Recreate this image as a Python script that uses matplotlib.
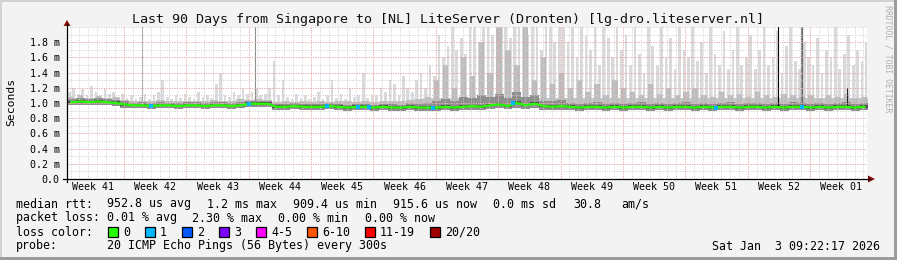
import numpy as np
import matplotlib.pyplot as plt
from matplotlib.patches import Rectangle, Polygon
from matplotlib.lines import Line2D

# chart data (ms), one value per day over the last 90 days
median = [1.01, 1.02, 1.01, 1.02, 1.01, 1.00, 0.98,
          0.97, 0.97, 0.96, 0.97, 0.97, 0.96, 0.97,
          0.97, 0.96, 0.97, 0.97, 0.96, 0.97, 0.99,
          0.99, 0.99, 0.95, 0.95, 0.96, 0.95, 0.95,
          0.95, 0.96, 0.95, 0.94, 0.95, 0.95, 0.94,
          0.95, 0.94, 0.94, 0.95, 0.94, 0.94, 0.94,
          0.95, 0.94, 0.95, 0.96, 0.95, 0.97, 0.98,
          0.96, 1.00, 0.97, 0.99, 0.96, 0.95, 0.96,
          0.95, 0.94, 0.95, 0.95, 0.94, 0.95, 0.94,
          0.95, 0.95, 0.94, 0.95, 0.94, 0.95, 0.95,
          0.94, 0.95, 0.94, 0.95, 0.95, 0.94, 0.95,
          0.95, 0.94, 0.95, 0.94, 0.95, 0.95, 0.94,
          0.95, 0.94, 0.95, 0.95, 0.94, 0.95]

smoke_lo = [0.97, 0.98, 0.97, 0.97, 0.97, 0.96, 0.94,
            0.93, 0.93, 0.92, 0.93, 0.93, 0.92, 0.93,
            0.93, 0.92, 0.93, 0.93, 0.92, 0.93, 0.95,
            0.95, 0.95, 0.91, 0.91, 0.92, 0.91, 0.91,
            0.91, 0.92, 0.91, 0.90, 0.91, 0.91, 0.90,
            0.91, 0.90, 0.90, 0.91, 0.90, 0.90, 0.90,
            0.91, 0.90, 0.91, 0.91, 0.91, 0.92, 0.93,
            0.92, 0.94, 0.92, 0.93, 0.91, 0.91, 0.91,
            0.91, 0.90, 0.91, 0.91, 0.90, 0.91, 0.90,
            0.91, 0.91, 0.90, 0.91, 0.90, 0.91, 0.91,
            0.90, 0.91, 0.90, 0.91, 0.91, 0.90, 0.91,
            0.91, 0.90, 0.91, 0.90, 0.91, 0.91, 0.90,
            0.91, 0.90, 0.91, 0.91, 0.90, 0.91]

smoke_dark = [1.05, 1.06, 1.05, 1.06, 1.05, 1.04, 1.02,
              1.00, 1.01, 1.00, 1.01, 1.00, 1.00, 1.01,
              1.01, 1.00, 1.01, 1.01, 1.00, 1.01, 1.03,
              1.03, 1.03, 0.99, 0.99, 1.00, 0.99, 0.99,
              0.99, 1.00, 0.99, 0.98, 0.99, 0.99, 0.98,
              0.99, 0.99, 0.98, 1.00, 0.99, 1.00, 1.02,
              1.05, 1.02, 1.08, 1.06, 1.10, 1.08, 1.12,
              1.06, 1.15, 1.08, 1.10, 1.03, 1.02, 1.04,
              1.00, 0.99, 1.00, 1.01, 0.99, 1.00, 0.99,
              1.00, 1.01, 0.99, 1.00, 0.99, 1.00, 1.01,
              0.99, 1.00, 0.99, 1.00, 1.01, 0.99, 1.00,
              1.00, 0.99, 1.00, 0.99, 1.01, 1.00, 0.99,
              1.00, 0.99, 1.00, 1.01, 0.99, 1.00]

smoke_mid = [1.08, 1.10, 1.07, 1.09, 1.06, 1.08, 1.04,
             1.02, 1.03, 1.02, 1.04, 1.02, 1.03, 1.02,
             1.03, 1.02, 1.04, 1.03, 1.02, 1.05, 1.04,
             1.05, 1.04, 1.01, 1.02, 1.01, 1.02, 1.01,
             1.02, 1.01, 1.02, 1.03, 1.01, 1.02, 1.01,
             1.02, 1.03, 1.02, 1.04, 1.05, 1.08, 1.30,
             1.50, 1.20, 1.60, 1.35, 1.80, 1.40, 2.00,
             1.70, 1.50, 2.00, 1.30, 1.60, 1.25, 1.40,
             1.20, 1.30, 1.15, 1.25, 1.10, 1.30, 1.20,
             1.15, 1.10, 1.25, 1.12, 1.20, 1.10, 1.15,
             1.20, 1.10, 1.08, 1.15, 1.10, 1.12, 1.08,
             1.15, 1.10, 1.08, 1.12, 1.10, 1.08, 1.10,
             1.06, 1.10, 1.08, 1.12, 1.06, 1.08]

# upper smoke, two values per day
smoke_hi = [1.15, 1.20, 1.12, 1.18, 1.10, 1.22, 1.15, 1.10, 1.18, 1.12, 1.15, 1.08, 1.12,
            1.06, 1.10, 1.05, 1.08, 1.12, 1.05, 1.10, 1.15, 1.30, 1.08, 1.05, 1.10, 1.06, 1.12,
            1.08, 1.05, 1.15, 1.08, 1.10, 1.06, 1.25, 1.40, 1.10, 1.08, 1.15, 1.10, 1.20, 1.12,
            1.15, 1.20, 1.10, 1.12, 1.20, 1.55, 1.10, 1.30, 1.08, 1.05, 1.12, 1.06, 1.10, 1.05,
            1.08, 1.15, 1.05, 1.10, 1.30, 1.06, 1.12, 1.05, 1.20, 1.08, 1.10, 1.40, 1.06, 1.10,
            1.10, 1.20, 1.15, 1.30, 1.25, 1.10, 1.35, 1.20, 1.15, 1.30, 1.40, 1.20, 1.50, 1.35,
            1.90, 1.60, 1.75, 2.00, 1.70, 1.85, 1.65, 2.00, 2.00, 1.80, 2.00, 2.00, 1.90, 2.00,
            2.00, 2.00, 1.85, 2.00, 2.00, 2.00, 1.90, 2.00, 2.00, 1.70, 2.00, 2.00, 1.80, 2.00,
            2.00, 1.80, 2.00, 1.60, 2.00, 1.90, 1.70, 2.00, 1.50, 2.00, 1.85, 1.60, 2.00, 1.70,
            1.90, 1.50, 2.00, 1.65, 1.40, 2.00, 1.75, 1.50, 2.00, 1.60, 1.85, 1.45, 2.00, 1.70,
            1.60, 2.00, 1.55, 1.80, 1.40, 2.00, 1.65, 1.50, 1.95, 1.45, 1.70, 2.00, 1.50, 1.60,
            1.90, 1.45, 1.70, 2.00, 1.50, 1.60, 1.95, 1.40, 1.75, 2.00, 1.55, 1.45, 1.80, 1.60,
            1.50, 1.85, 1.40, 1.70, 1.60, 2.00, 1.45, 1.65, 1.90, 1.50, 1.70, 1.55, 1.80]

# single outliers (day, top in ms)
spike_days = [8.4, 21.1, 79.8, 82.5, 87.5]
spike_tops = [2.0, 2.0, 2.0, 2.0, 1.2]
spike_colors = ['#a0a0a0', '#8c8c8c', '#000000', '#6a6a6a', '#202020']
spike_widths = [0.8, 0.8, 0.8, 1.6, 0.8]

# days where 1 of 20 pings was lost
loss1_days = [9.4, 20.4, 29.2, 32.7, 33.9, 41.1, 50.1, 72.9, 82.5]

week_labels = ['Week 41', 'Week 42', 'Week 43', 'Week 44', 'Week 45', 'Week 46', 'Week 47',
               'Week 48', 'Week 49', 'Week 50', 'Week 51', 'Week 52', 'Week 01']
y_ticks = [0.0, 0.2, 0.4, 0.6, 0.8, 1.0, 1.2, 1.4, 1.6, 1.8]
y_labels = ['0.0', '0.2 m', '0.4 m', '0.6 m', '0.8 m', '1.0 m', '1.2 m', '1.4 m', '1.6 m', '1.8 m']

loss_labels = ['0', '1', '2', '3', '4-5', '6-10', '11-19', '20/20']
loss_colors = ['#26ff00', '#00b8ff', '#0059ff', '#7e00ff', '#ff00ff', '#ff5500', '#ff0000', '#a10000']

title = 'Last 90 Days from Singapore to [NL] LiteServer (Dronten) [lg-dro.liteserver.nl]'
rtt_stats = ['median rtt:', '952.8 us avg', '1.2 ms max', '909.4 us min', '915.6 us now',
             '0.0 ms sd', '30.8', 'am/s']
loss_stats = ['packet loss:', '0.01 % avg', '2.30 % max', '0.00 % min', '0.00 % now']
probe_text = '20 ICMP Echo Pings (56 Bytes) every 300s'
stamp = 'Sat Jan  3 09:22:17 2026'

W, H = 897, 260
MONO = 'DejaVu Sans Mono'
plt.rcParams['font.family'] = MONO

fig = plt.figure(figsize=(W / 100, H / 100), dpi=100, facecolor='#f3f3f3')


def fx(x):
    return x / W


def fy(y):
    return 1 - y / H


ax = fig.add_axes([fx(67), fy(179), 800 / W, 152 / H])
ax.set_facecolor('white')
ax.set_xlim(0, 89.8)
ax.set_ylim(0, 2.0)
for s in ax.spines.values():
    s.set_visible(False)

days = np.arange(len(median))
xd = np.append(days, len(median))
med = np.array(median)


def ext(a):
    return np.append(a, a[-1])


# smoke layers: thin light columns, then denser grey bands near the median
hx = np.arange(len(smoke_hi)) * 0.5 + 0.25
hb = np.repeat(med, 2)
ax.bar(hx, np.array(smoke_hi) - hb, bottom=hb, width=0.3, color='#dadada', lw=0, zorder=1)
ax.bar(days + 0.5, np.array(smoke_mid) - np.array(smoke_lo), bottom=smoke_lo, width=0.6,
       color='#bcbcbc', lw=0, zorder=1.2)
ax.fill_between(xd, ext(smoke_lo), ext(np.minimum(smoke_mid, 1.06)), step='post',
                color='#c4c4c4', lw=0, zorder=1.1)
ax.fill_between(xd, ext(smoke_lo), ext(smoke_dark), step='post', color='#8e8e8e', lw=0, zorder=1.4)
ax.fill_between(xd, ext(med - 0.015), ext(med + 0.02), step='post', color='#555555', lw=0, zorder=1.6)
for d, t, c, w in zip(spike_days, spike_tops, spike_colors, spike_widths):
    ax.plot([d, d], [median[int(d)], t], color=c, lw=w, zorder=1.8)

# grid
first = 6.4
for n in range(-6, 90):
    d = first + n
    if 0 < d < 89.8:
        ax.axvline(d, color='#cfcfcf', lw=0.7, ls=(0, (1, 1.5)), zorder=2)
for v in np.arange(0.1, 2.01, 0.1):
    ax.axhline(v, color='#cfcfcf', lw=0.7, ls=(0, (1, 1.5)), zorder=2)
for k in range(13):
    d = first + 7 * k
    if d < 89.8:
        ax.axvline(d, color='#f4a0a0', lw=0.7, ls=(0, (1, 1.5)), zorder=2.1)
for v in y_ticks[1:]:
    ax.axhline(v, color='#f4a0a0', lw=0.7, ls=(0, (1, 1.5)), zorder=2.1)

# median line
ax.plot(days + 0.5, median, color=loss_colors[0], lw=1.6, zorder=5)
ax.scatter(loss1_days, [median[int(d)] for d in loss1_days], marker='s', s=5,
           color=loss_colors[1], lw=0, zorder=6)

# ticks
ax.set_yticks(y_ticks)
ax.set_yticklabels(y_labels)
ax.set_xticks([first - 3.5 + 7 * k for k in range(len(week_labels))])
ax.set_xticklabels(week_labels)
ax.tick_params(axis='y', length=0, pad=5.4, labelsize=7.2)
ax.tick_params(axis='x', length=0, pad=2.5, labelsize=7.2)

# axes lines and arrows
fig.add_artist(Line2D([fx(67), fx(67)], [fy(182), fy(24)], color='black', lw=0.9))
fig.add_artist(Line2D([fx(63), fx(870)], [fy(179), fy(179)], color='black', lw=0.9))
fig.add_artist(Polygon([[fx(63.5), fy(26)], [fx(70.5), fy(26)], [fx(67), fy(20)]],
                       closed=True, color='#8b0a0a', lw=0))
fig.add_artist(Polygon([[fx(868), fy(175.5)], [fx(868), fy(182.5)], [fx(875), fy(179)]],
                       closed=True, color='#8b0a0a', lw=0))

# titles
fig.text(fx(448), fy(23.5), title, ha='center', va='baseline', fontsize=9.65, color='#111111')
fig.text(fx(11), fy(102), 'Seconds', rotation=90, ha='center', va='center', fontsize=8.2)
fig.text(fx(888), fy(5), 'RRDTOOL / TOBI OETIKER', rotation=270, ha='center', va='top',
         fontsize=5.9, color='#b0b0b0')

# legend
fs = 8.4
for txt, x in zip(rtt_stats, [16, 107, 207, 293, 393, 493, 573, 621]):
    fig.text(fx(x), fy(207.5), txt, fontsize=fs, va='baseline')
for txt, x in zip(loss_stats, [16, 107, 192, 278, 365]):
    fig.text(fx(x), fy(221.5), txt, fontsize=fs, va='baseline')
fig.text(fx(16), fy(235.5), 'loss color:', fontsize=fs, va='baseline')
bx = 108
for lab, col in zip(loss_labels, loss_colors):
    fig.add_artist(Rectangle((fx(bx), fy(237)), 10 / W, 10 / H, transform=fig.transFigure,
                             facecolor=col, edgecolor='black', lw=0.9))
    fig.text(fx(bx + 15), fy(235.5), lab, fontsize=fs, va='baseline')
    bx += 30 + 7 * len(lab)
fig.text(fx(16), fy(249.5), 'probe:', fontsize=fs, va='baseline')
fig.text(fx(107), fy(249.5), probe_text, fontsize=fs, va='baseline')
fig.text(fx(880), fy(249.5), stamp, fontsize=fs, va='baseline', ha='right')

# frame
fig.add_artist(Rectangle((0, fy(2)), 1, 2 / H, transform=fig.transFigure, color='#d2d2d2', lw=0))
fig.add_artist(Rectangle((0, 0), 2 / W, 1, transform=fig.transFigure, color='#d2d2d2', lw=0))
fig.add_artist(Rectangle((0, 0), 1, 3 / H, transform=fig.transFigure, color='#9c9c9c', lw=0))
fig.add_artist(Rectangle((fx(894), 0), 3 / W, 1, transform=fig.transFigure, color='#9c9c9c', lw=0))

fig.savefig('out.png', dpi=100, facecolor=fig.get_facecolor())
